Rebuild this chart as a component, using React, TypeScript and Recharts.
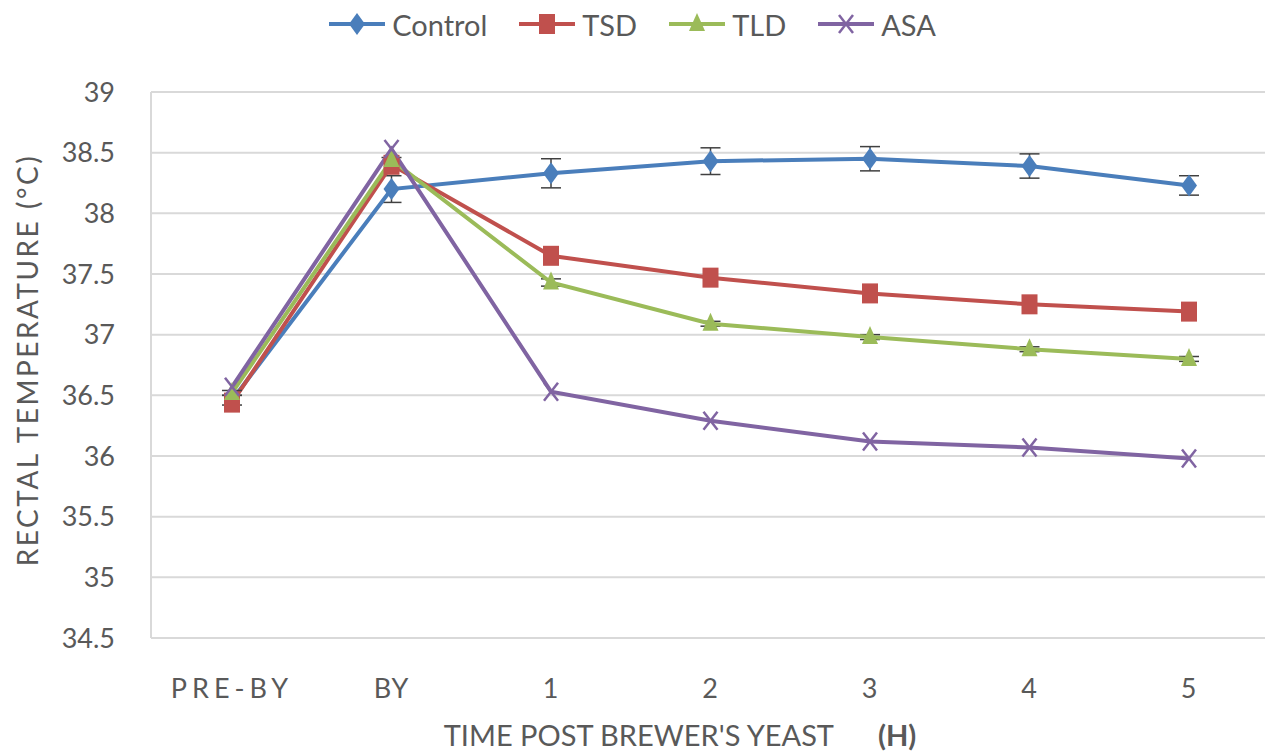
import React from 'react';
import {
  LineChart,
  Line,
  XAxis,
  YAxis,
  CartesianGrid,
  Legend,
  ErrorBar,
} from 'recharts';

const categories = ['PRE-BY', 'BY', '1', '2', '3', '4', '5'];
const control = [36.46, 38.2, 38.33, 38.43, 38.45, 38.39, 38.23];
const controlErr = [0.04, 0.11, 0.12, 0.11, 0.1, 0.1, 0.08];
const tsd = [36.44, 38.4, 37.65, 37.47, 37.34, 37.25, 37.19];
const tld = [36.52, 38.44, 37.43, 37.09, 36.98, 36.88, 36.8];
const tldErr = [0.02, 0.02, 0.03, 0.02, 0.02, 0.02, 0.02];
const asa = [36.57, 38.53, 36.53, 36.29, 36.12, 36.07, 35.98];
const yTicks = [34.5, 35, 35.5, 36, 36.5, 37, 37.5, 38, 38.5, 39];

const data = categories.map((name, i) => ({
  name,
  control: control[i],
  controlErr: controlErr[i],
  tsd: tsd[i],
  tld: tld[i],
  tldErr: tldErr[i],
  asa: asa[i],
}));

const FONT = 'Lato, "Open Sans", sans-serif';
const TEXT = '#595959';
const GRID = '#d9d9d9';

const COLORS = {
  control: '#4a7ebb',
  tsd: '#c0504d',
  tld: '#9bbb59',
  asa: '#8064a2',
};

function marker(kind: string, cx: number, cy: number, color: string) {
  if (kind === 'diamond') {
    return (
      <polygon
        points={`${cx},${cy - 11} ${cx + 8},${cy} ${cx},${cy + 11} ${cx - 8},${cy}`}
        fill={color}
      />
    );
  }
  if (kind === 'square') {
    return <rect x={cx - 8} y={cy - 10} width={16} height={20} fill={color} />;
  }
  if (kind === 'triangle') {
    return (
      <polygon
        points={`${cx},${cy - 11} ${cx + 8},${cy + 7} ${cx - 8},${cy + 7}`}
        fill={color}
      />
    );
  }
  return (
    <g stroke={color} strokeWidth={2.5}>
      <line x1={cx - 7} y1={cy - 9} x2={cx + 7} y2={cy + 9} />
      <line x1={cx - 7} y1={cy + 9} x2={cx + 7} y2={cy - 9} />
    </g>
  );
}

const makeDot = (kind: string, color: string) => (props: any) => {
  const { cx, cy, index } = props;
  if (cx == null || cy == null) return <g key={`d-${kind}-${index}`} />;
  return <g key={`d-${kind}-${index}`}>{marker(kind, cx, cy, color)}</g>;
};

const LEGEND_ITEMS = [
  { label: 'Control', kind: 'diamond', color: COLORS.control },
  { label: 'TSD', kind: 'square', color: COLORS.tsd },
  { label: 'TLD', kind: 'triangle', color: COLORS.tld },
  { label: 'ASA', kind: 'x', color: COLORS.asa },
];

function LegendContent() {
  return (
    <div
      style={{
        height: 48,
        display: 'flex',
        justifyContent: 'center',
        alignItems: 'center',
        gap: 32,
        fontFamily: FONT,
        fontSize: 29,
        color: TEXT,
      }}
    >
      {LEGEND_ITEMS.map((it) => (
        <div key={it.label} style={{ display: 'flex', alignItems: 'center', gap: 7 }}>
          <svg width={56} height={24}>
            <line x1={0} y1={12} x2={56} y2={12} stroke={it.color} strokeWidth={4} />
            {marker(it.kind, 28, 12, it.color)}
          </svg>
          <span>{it.label}</span>
        </div>
      ))}
    </div>
  );
}

function XTick(props: any) {
  const { x, y, payload } = props;
  const spaced = payload.value === 'PRE-BY';
  return (
    <text
      x={x}
      y={y}
      dy={20}
      textAnchor="middle"
      fill={TEXT}
      fontSize={27}
      fontFamily={FONT}
      letterSpacing={spaced ? 5 : 1}
    >
      {payload.value}
    </text>
  );
}

export default function App() {
  return (
    <div style={{ position: 'absolute', left: 0, top: 0, background: '#fff' }}>
      <LineChart
        width={1265}
        height={753}
        data={data}
        margin={{ top: 44, right: 0, bottom: 0, left: 0 }}
      >
        <CartesianGrid vertical={false} stroke={GRID} strokeWidth={2} />
        <XAxis
          dataKey="name"
          height={115}
          padding={{ left: 81, right: 76 }}
          tickLine={false}
          axisLine={{ stroke: GRID, strokeWidth: 2 }}
          tickMargin={34}
          tick={<XTick />}
          label={{
            content: () => (
              <text
                x={680}
                y={746}
                textAnchor="middle"
                fill={TEXT}
                fontSize={29}
                fontFamily={FONT}
              >
                TIME POST BREWER'S YEAST
                <tspan dx={44} fontWeight="bold">(H)</tspan>
              </text>
            ),
          }}
        />
        <YAxis
          width={151}
          domain={[34.5, 39]}
          ticks={yTicks}
          tickLine={false}
          axisLine={{ stroke: GRID, strokeWidth: 2 }}
          tickMargin={30}
          tick={{ fill: TEXT, fontSize: 27, fontFamily: FONT }}
          label={{
            content: () => (
              <text
                x={27}
                y={360}
                transform="rotate(-90, 27, 360)"
                textAnchor="middle"
                dominantBaseline="central"
                fill={TEXT}
                fontSize={28}
                letterSpacing={2.5}
                fontFamily={FONT}
              >
                RECTAL TEMPERATURE (°C)
              </text>
            ),
          }}
        />
        <Legend verticalAlign="top" wrapperStyle={{ top: 0, left: 0 }} content={<LegendContent />} />
        <Line
          dataKey="control"
          stroke={COLORS.control}
          strokeWidth={4}
          dot={makeDot('diamond', COLORS.control)}
          isAnimationActive={false}
        >
          <ErrorBar dataKey="controlErr" width={10} stroke="#404040" strokeWidth={1.5} direction="y" />
        </Line>
        <Line
          dataKey="tsd"
          stroke={COLORS.tsd}
          strokeWidth={4}
          dot={makeDot('square', COLORS.tsd)}
          isAnimationActive={false}
        />
        <Line
          dataKey="tld"
          stroke={COLORS.tld}
          strokeWidth={4}
          dot={makeDot('triangle', COLORS.tld)}
          isAnimationActive={false}
        >
          <ErrorBar dataKey="tldErr" width={10} stroke="#404040" strokeWidth={1.5} direction="y" />
        </Line>
        <Line
          dataKey="asa"
          stroke={COLORS.asa}
          strokeWidth={4}
          dot={makeDot('x', COLORS.asa)}
          isAnimationActive={false}
        />
      </LineChart>
    </div>
  );
}
